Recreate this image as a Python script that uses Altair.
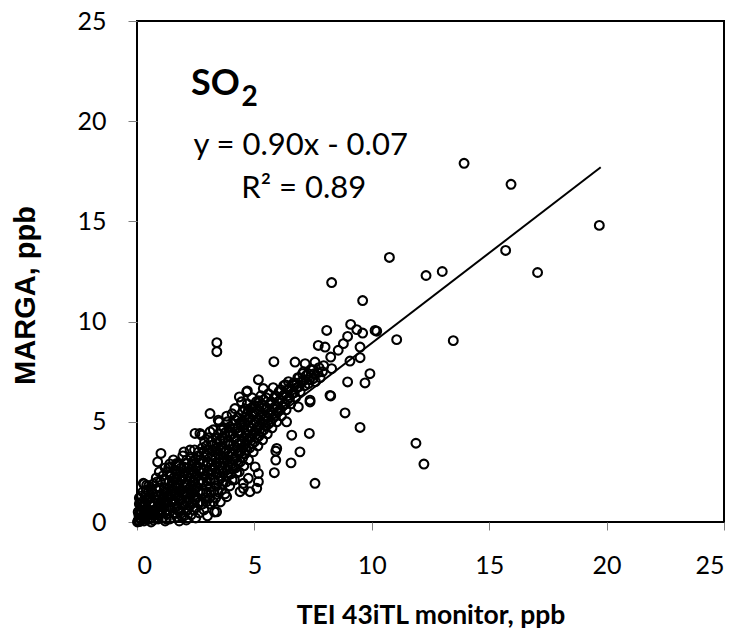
import altair as alt
import pandas as pd

# ---- dense cloud near the origin (TEI x, MARGA y) ----
dense_x = [0.02,0.05,0.1,0.12,0.08,0.18,0.2,0.25,0.15,0.3,
           0.32,0.28,0.38,0.22,0.4,0.45,0.42,0.5,0.35,0.55,
           0.58,0.6,0.48,0.65,0.7,0.72,0.62,0.78,0.8,0.7,
           0.85,0.9,0.88,0.95,0.82,1.0,1.02,1.05,1.0,0.95,
           1.1,1.15,1.12,1.18,1.1,1.2,1.25,1.3,1.28,1.35,
           1.3,1.4,1.42,1.45,1.5,1.45,1.4,1.55,1.6,1.58,
           1.62,1.6,1.55,1.7,1.72,1.75,1.78,1.72,1.8,1.85,
           1.88,1.9,1.92,1.88,1.95,2.0,2.02,2.05,2.08,2.05,
           2.1,2.0,2.15,2.2,2.22,2.25,2.2,2.28,2.3,2.35,
           2.38,2.4,2.42,2.38,2.45,2.5,2.52,2.55,2.58,2.55,
           2.6,2.65,2.68,2.7,2.72,2.75,2.7,2.78,0.6,1.2,
           0.3,0.5,0.15,0.05,0.1,0.25,2.5,2.1,1.8,0.9]
dense_y = [0.0,0.08,0.02,0.2,0.35,0.1,0.45,0.28,0.6,0.05,
           0.5,0.8,0.22,1.0,0.65,0.12,1.05,0.4,1.3,0.85,
           0.2,1.2,1.5,0.55,0.1,0.95,1.6,0.35,1.35,1.9,
           0.7,0.15,1.1,1.7,2.2,0.45,0.95,1.4,2.0,2.5,
           0.2,0.7,1.2,1.7,2.3,2.7,0.4,1.0,1.5,2.0,
           2.5,0.15,0.75,1.3,1.8,2.3,2.9,0.45,1.05,1.55,
           2.1,2.6,3.1,0.25,0.8,1.3,1.9,2.4,2.9,0.55,
           1.1,1.6,2.2,2.7,3.3,0.3,0.85,1.35,1.9,2.45,
           2.95,3.5,0.6,1.15,1.65,2.2,2.7,3.25,0.35,0.95,
           1.45,2.0,2.5,3.0,3.6,0.7,1.25,1.75,2.3,2.8,
           3.3,0.45,1.0,1.5,2.05,2.6,3.1,3.7,0.0,0.05,
           1.9,1.8,0.85,0.5,1.2,1.5,0.2,0.1,0.05,0.5]

# ---- main band, x from about 3 to 8 ppb ----
band_x = [2.85,2.9,2.95,2.88,2.92,3.0,2.95,3.05,3.0,3.1,
          3.15,3.12,3.2,3.18,3.22,3.15,3.25,3.3,3.35,3.38,
          3.4,3.42,3.45,3.4,3.48,3.5,3.55,3.6,3.58,3.62,
          3.65,3.6,3.68,3.7,3.75,3.8,3.82,3.85,3.8,3.88,
          3.9,3.85,3.95,4.0,4.02,4.05,4.0,4.08,4.1,4.05,
          4.15,4.2,4.22,4.25,4.2,4.28,4.3,4.35,4.4,4.42,
          4.45,4.4,4.48,4.5,4.45,4.55,4.6,4.62,4.65,4.6,
          4.68,4.7,4.75,4.8,4.82,4.85,4.8,4.88,4.9,4.95,
          5.0,5.02,5.05,5.0,5.08,5.15,5.2,5.22,5.25,5.2,
          5.28,5.35,5.4,5.42,5.45,5.4,5.55,5.6,5.62,5.65,
          5.6,5.75,5.8,5.82,5.85,5.8,5.95,6.0,6.02,6.05,
          6.15,6.2,6.22,6.25,6.35,6.4,6.42,6.45,6.55,6.6,
          6.65,6.75,6.8,6.85,6.95,7.0,7.05,7.15,7.2,7.35,
          7.4,7.55,7.6,7.75,7.8,7.9]
band_y = [0.6,1.2,1.8,2.3,2.8,3.3,3.8,4.2,0.3,0.9,
          1.5,2.1,2.6,3.1,3.6,4.0,4.6,0.5,1.2,1.8,
          2.4,2.9,3.4,3.9,4.4,5.0,1.0,1.6,2.2,2.7,
          3.2,3.7,4.2,4.7,1.4,2.0,2.6,3.1,3.6,4.0,
          4.5,5.0,1.8,2.4,2.9,3.4,3.9,4.4,4.9,5.4,
          2.1,2.7,3.2,3.7,4.2,4.7,5.2,2.5,3.0,3.5,
          4.0,4.5,5.0,5.5,6.0,2.8,3.4,3.9,4.4,4.9,
          5.4,5.9,3.1,3.7,4.2,4.7,5.2,5.7,6.2,3.5,
          4.0,4.5,5.0,5.5,6.0,3.8,4.3,4.8,5.3,5.8,
          6.3,4.1,4.6,5.1,5.6,6.1,4.4,4.9,5.4,5.9,
          6.4,4.7,5.2,5.7,6.2,6.7,5.0,5.5,6.0,6.5,
          5.3,5.8,6.3,6.8,5.6,6.1,6.6,7.0,5.9,6.4,
          6.9,6.2,6.7,7.2,6.5,7.0,7.4,6.8,7.3,7.1,
          7.6,7.4,7.0,7.7,7.2,7.5]

# ---- extra points filling the dense core, as (TEI, MARGA) pairs ----
fill_pts = [
    (0.12,0.45),(0.2,0.75),(0.3,0.35),(0.35,0.95),(0.45,0.5),(0.5,1.2),(0.4,1.6),(0.2,1.3),(0.1,0.9),(0.3,0.15),
    (0.62,0.4),(0.68,0.8),(0.75,1.2),(0.66,1.4),(0.8,1.65),(0.9,1.3),(0.92,0.35),(0.98,0.8),(0.85,2.0),(0.75,0.6),
    (1.05,0.6),(1.08,1.15),(1.15,1.5),(1.2,0.9),(1.22,2.1),(1.3,1.25),(1.35,0.6),(1.38,1.75),(1.4,2.35),(1.48,1.0),
    (1.5,1.5),(1.5,2.05),(1.35,2.7),(1.25,0.15),(1.6,0.7),(1.65,1.3),(1.68,1.75),(1.7,2.25),(1.65,2.85),(1.78,0.55),
    (1.8,1.1),(1.82,1.55),(1.85,2.05),(1.85,2.5),(1.9,0.3),(1.95,0.9),(1.98,1.4),(2.0,1.75),(1.98,2.3),(2.0,2.75),
    (2.1,0.55),(2.12,1.0),(2.15,1.45),(2.15,1.9),(2.18,2.45),(2.12,3.1),(2.25,0.8),(2.28,1.35),(2.3,1.8),(2.32,2.4),
    (2.35,2.9),(2.4,0.6),(2.45,1.1),(2.45,1.6),(2.48,2.2),(2.5,2.7),(2.5,3.15),(2.6,0.95),(2.6,1.5),(2.62,2.0),
    (2.65,2.5),(2.65,2.95),(2.62,3.5),(2.8,0.9),(2.8,1.45),(2.82,2.0),(2.85,2.55),(2.82,3.0),(2.85,3.5),(2.88,4.0),
    (2.95,1.0),(2.98,1.5),(3.0,2.05),(3.02,2.55),(3.0,3.0),(3.05,3.6),(3.1,1.2),(3.12,1.75),(3.15,2.35),(3.18,2.85),
    (3.2,3.35),(3.22,3.85),(3.25,1.0),(3.28,1.55),(3.3,2.1),(3.32,2.65),(3.35,3.15),(3.35,3.65),(3.38,4.15),(3.45,1.5),
    (3.48,2.05),(3.5,2.6),(3.52,3.15),(3.55,3.6),(3.55,4.1),(3.58,4.6),(3.65,1.9),(3.68,2.45),(3.7,2.95),(3.72,3.45),
    (3.75,3.95),(3.75,4.45),(3.85,2.3),(3.88,2.8),(3.9,3.3),(3.92,3.85),(3.95,4.3),(3.95,4.75),(4.05,2.1),(4.08,2.65),
    (4.1,3.15),(4.12,3.65),(4.15,4.15),(4.15,4.65),(4.18,5.1),(4.25,2.45),(4.3,2.95),(4.32,3.45),(4.35,3.95),(4.35,4.45),
    (4.38,4.95),(4.5,3.2),(4.52,3.7),(4.55,4.2),(4.55,4.7),(4.58,5.2),(4.6,5.65),(4.68,3.6),(4.7,4.1),(4.72,4.6),
    (4.75,5.1),(4.75,5.6),(4.9,3.9),(4.92,4.4),(4.95,4.9),(4.95,5.35),(4.98,5.8),(5.1,4.2),(5.12,4.7),(5.15,5.15),
    (5.15,5.6),(5.18,6.05),(5.3,4.5),(5.32,4.95),(5.35,5.4),(5.35,5.85),(5.48,4.8),(5.5,5.25),(5.52,5.7),(5.5,6.2),
    (5.7,5.0),(5.72,5.5),(5.72,6.0),(5.9,5.3),(5.92,5.8),(5.9,6.3),(6.1,5.6),(6.1,6.1),(6.12,6.6),(6.3,5.9),
    (6.3,6.4),(6.32,6.85),(6.5,6.2),(6.5,6.65),(6.7,6.45),(6.7,6.95),(6.9,6.75),(6.9,7.2),(7.1,7.05),(7.1,7.5),
    (7.3,7.4),(7.3,6.9),(7.5,7.6),(7.5,7.15),(7.7,7.45),(7.95,7.8),
]

# ---- scattered points outside the dense band ----
outer_x = [13.93,15.93,15.7,17.06,19.69,10.75,12.31,13.0,8.29,9.61,
           13.47,11.06,10.21,9.1,9.36,9.61,8.08,8.97,8.79,7.72,
           8.01,8.57,9.5,8.25,9.5,9.07,6.73,7.16,7.58,8.29,
           9.92,9.71,8.97,8.25,8.86,9.5,7.34,6.59,6.94,6.56,
           7.58,7.37,6.87,6.37,11.88,12.22,3.4,3.4,5.83,5.17,
           5.38,4.67,4.36,3.11,3.46,4.17,2.68,5.95,5.91,5.91,
           5.85,5.17,5.17,4.81,4.39,5.03,3.39,4.53,4.74,5.1,
           4.53,3.82,2.47,2.75,3.11,2.26,1.41,1.69,1.02,0.88,
           0.27,0.41,3.82,4.7,6.69,7.37,8.22,10.14]
outer_y = [17.9,16.85,13.55,12.45,14.8,13.2,12.3,12.5,11.95,11.05,
           9.05,9.1,9.52,9.86,9.6,9.43,9.56,9.26,8.9,8.81,
           8.73,8.57,8.73,8.23,8.2,8.03,7.98,7.9,7.98,7.65,
           7.4,6.94,6.99,6.29,5.44,4.72,4.42,4.33,3.5,2.95,
           1.93,6.08,5.74,5.0,3.93,2.89,8.95,8.5,8.0,7.1,
           6.66,6.49,6.24,5.41,5.08,5.66,4.42,3.67,3.54,3.09,
           2.46,2.42,2.01,1.51,1.51,2.75,0.51,1.93,2.18,1.68,
           1.68,1.26,4.42,4.33,4.5,3.59,2.75,2.92,3.42,3.0,
           1.93,1.84,5.28,6.54,6.82,5.99,6.32,9.56]

# ---- linear fit line (y = 0.90x - 0.07), endpoints ----
fit_x = [0.08, 19.75]
fit_y = [0.0, 17.7]

# ---- annotation texts and anchor positions (data units) ----
ann_text = ["y = 0.90x - 0.07", "R\u00b2 = 0.89"]
ann_x = [6.97, 7.1]
ann_y = [18.3, 16.15]
so_text = ["SO"]
so_x = [2.3]
so_y = [21.3]
sub_text = ["2"]
sub_x = [4.45]
sub_y = [20.75]

tick_vals = [0, 5, 10, 15, 20, 25]
FONT = "Lato"

xs = dense_x + band_x + [p[0] for p in fill_pts] + outer_x
ys = dense_y + band_y + [p[1] for p in fill_pts] + outer_y
pts = pd.DataFrame({"x": xs, "y": ys})
fit = pd.DataFrame({"x": fit_x, "y": fit_y})
ann = pd.DataFrame({"x": ann_x, "y": ann_y, "t": ann_text})
so = pd.DataFrame({"x": so_x, "y": so_y, "t": so_text})
sub = pd.DataFrame({"x": sub_x, "y": sub_y, "t": sub_text})

xscale = alt.Scale(domain=[0, 25], nice=False, zero=True)
yscale = alt.Scale(domain=[0, 25], nice=False, zero=True)

xaxis = alt.Axis(values=tick_vals, title="TEI 43iTL monitor, ppb", grid=False, domain=False,
                 tickSize=8, tickColor="#808080", tickWidth=1, labelFontSize=25, labelFont=FONT,
                 labelColor="black", labelPadding=23, titleFont=FONT, titleFontSize=26.5,
                 titleFontWeight="bold", titleColor="black", titleY=93, titleBaseline="middle")
yaxis = alt.Axis(values=tick_vals, title="MARGA, ppb", grid=False, domain=False,
                 tickSize=9, tickColor="#808080", tickWidth=1, labelFontSize=25, labelFont=FONT,
                 labelColor="black", labelPadding=22, titleFont="Liberation Sans", titleFontSize=29,
                 titleFontWeight="bold", titleColor="black", titleX=-112, titleY=274,
                 titleBaseline="middle", titleAlign="center")

points = alt.Chart(pts).mark_point(shape="circle", filled=False, size=78, strokeWidth=2.1,
                                   color="black", opacity=1).encode(
    x=alt.X("x:Q", scale=xscale, axis=xaxis),
    y=alt.Y("y:Q", scale=yscale, axis=yaxis),
)

line = alt.Chart(fit).mark_line(color="black", strokeWidth=2).encode(
    x=alt.X("x:Q", scale=xscale), y=alt.Y("y:Q", scale=yscale))

ann_layer = alt.Chart(ann).mark_text(font=FONT, fontSize=31, color="black", align="center",
                                     baseline="alphabetic").encode(
    x=alt.X("x:Q", scale=xscale), y=alt.Y("y:Q", scale=yscale), text="t:N")

so_layer = alt.Chart(so).mark_text(font=FONT, fontSize=36, fontWeight="bold", color="black",
                                   align="left", baseline="alphabetic").encode(
    x=alt.X("x:Q", scale=xscale), y=alt.Y("y:Q", scale=yscale), text="t:N")

sub_layer = alt.Chart(sub).mark_text(font=FONT, fontSize=28, fontWeight="bold", color="black",
                                     align="left", baseline="alphabetic").encode(
    x=alt.X("x:Q", scale=xscale), y=alt.Y("y:Q", scale=yscale), text="t:N")

chart = alt.layer(points, line, ann_layer, so_layer, sub_layer).properties(
    width=587, height=501,
    autosize=alt.AutoSizeParams(type="none"),
    padding={"left": 137, "top": 21, "right": 17, "bottom": 111},
    background="white",
).configure_view(stroke="black", strokeWidth=2)

chart.save("out.html", embed_options={"renderer": "svg", "actions": False})
